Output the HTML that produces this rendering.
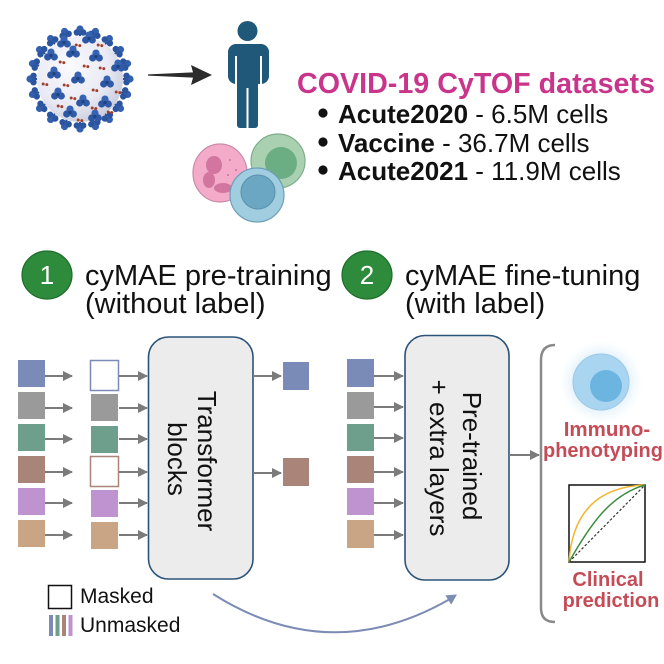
<!DOCTYPE html>
<html>
<head>
<meta charset="utf-8">
<style>
  html,body{margin:0;padding:0;background:#fff;}
  svg{display:block;}
  text{font-family:"Liberation Sans", Arial, sans-serif;}
</style>
</head>
<body>
<svg width="664" height="664" viewBox="0 0 664 664" xmlns="http://www.w3.org/2000/svg">
  <defs>
    <radialGradient id="vbody" cx="0.38" cy="0.35" r="0.75">
      <stop offset="0" stop-color="#fafafe"/>
      <stop offset="0.6" stop-color="#e9eaf4"/>
      <stop offset="1" stop-color="#c2c5d6"/>
    </radialGradient>
    <radialGradient id="glow" cx="0.5" cy="0.5" r="0.5">
      <stop offset="0.5" stop-color="#cfe8f8" stop-opacity="1"/>
      <stop offset="1" stop-color="#eef7fd" stop-opacity="0"/>
    </radialGradient>
    <g id="spike">
      <line x1="0" y1="-38" x2="0" y2="-46" stroke="#2a5298" stroke-width="2"/>
      <circle cx="0" cy="-50" r="3.6" fill="#3460b0"/>
      <circle cx="-3.2" cy="-46.5" r="3.2" fill="#2c55a0"/>
      <circle cx="3.2" cy="-46.5" r="3.2" fill="#2c55a0"/>
    </g>
    <g id="tri">
      <circle cx="0" cy="-2.9" r="3.6" fill="#3663b3"/>
      <circle cx="-3.3" cy="2" r="3.6" fill="#2d57a3"/>
      <circle cx="3.3" cy="2" r="3.6" fill="#2f5aa8"/>
      <circle cx="0" cy="0.5" r="1.6" fill="#1f437f"/>
    </g>
    <g id="rd">
      <circle cx="-1.8" cy="0" r="1.5" fill="#a1402f"/>
      <circle cx="1.8" cy="0.6" r="1.5" fill="#a1402f"/>
    </g>
    <marker id="ah" viewBox="0 0 10 10" refX="9" refY="5" markerWidth="10" markerHeight="10" markerUnits="userSpaceOnUse" orient="auto">
      <path d="M0,0 L10,5 L0,10 z" fill="#7b7b7b"/>
    </marker>
  </defs>

  <!-- Virus -->
  <g>
    <g transform="translate(80,79)">
      <use href="#spike" transform="rotate(0)"/>
      <use href="#spike" transform="rotate(18)"/>
      <use href="#spike" transform="rotate(36)"/>
      <use href="#spike" transform="rotate(54)"/>
      <use href="#spike" transform="rotate(72)"/>
      <use href="#spike" transform="rotate(90)"/>
      <use href="#spike" transform="rotate(108)"/>
      <use href="#spike" transform="rotate(126)"/>
      <use href="#spike" transform="rotate(144)"/>
      <use href="#spike" transform="rotate(162)"/>
      <use href="#spike" transform="rotate(180)"/>
      <use href="#spike" transform="rotate(198)"/>
      <use href="#spike" transform="rotate(216)"/>
      <use href="#spike" transform="rotate(234)"/>
      <use href="#spike" transform="rotate(252)"/>
      <use href="#spike" transform="rotate(270)"/>
      <use href="#spike" transform="rotate(288)"/>
      <use href="#spike" transform="rotate(306)"/>
      <use href="#spike" transform="rotate(324)"/>
      <use href="#spike" transform="rotate(342)"/>
    </g>
    <circle cx="80" cy="79" r="43" fill="url(#vbody)"/>
    <use href="#tri" x="73" y="52"/>
    <use href="#tri" x="96" y="56"/>
    <use href="#tri" x="51" y="55"/>
    <use href="#tri" x="54" y="73"/>
    <use href="#tri" x="78" y="78"/>
    <use href="#tri" x="107" y="82"/>
    <use href="#tri" x="58" y="94"/>
    <use href="#tri" x="83" y="101"/>
    <use href="#tri" x="105" y="102"/>
    <use href="#tri" x="70" y="112"/>
    <use href="#tri" x="95" y="116"/>
    <use href="#tri" x="118" y="66"/>
    <use href="#tri" x="64" y="42"/>
    <use href="#tri" x="89" y="38"/>
    <use href="#rd" x="62" y="62"/>
    <use href="#rd" x="86" y="66"/>
    <use href="#rd" x="102" y="68"/>
    <use href="#rd" x="66" y="85"/>
    <use href="#rd" x="95" y="90"/>
    <use href="#rd" x="118" y="92"/>
    <use href="#rd" x="45" y="84"/>
    <use href="#rd" x="73" y="98"/>
    <use href="#rd" x="94" y="108"/>
    <use href="#rd" x="60" y="106"/>
    <use href="#rd" x="80" y="120"/>
    <use href="#rd" x="110" y="112"/>
    <use href="#rd" x="78" y="45"/>
    <use href="#rd" x="100" y="45"/>
  </g>

  <!-- Arrow virus -> person -->
  <polygon points="148,74.4 193,72.4 191,65 212,75 191,85 193,77.6 148,75.6" fill="#2b2b2b"/>

  <!-- Person -->
  <g fill="#1f5878">
    <circle cx="247.5" cy="31" r="10"/>
    <rect x="228" y="44" width="41" height="40" rx="8"/>
    <rect x="237" y="76" width="21" height="52" rx="3"/>
  </g>
  <g stroke="#fff" stroke-width="2">
    <line x1="236" y1="56" x2="236" y2="86"/>
    <line x1="261" y1="56" x2="261" y2="86"/>
    <line x1="247.5" y1="88" x2="247.5" y2="130"/>
  </g>

  <!-- Cells -->
  <g>
    <ellipse cx="220" cy="173" rx="27" ry="29" fill="#f3abc9" stroke="#c98ba7" stroke-width="1.2"/>
    <ellipse cx="214" cy="165" rx="8" ry="9" fill="#d2769f"/>
    <ellipse cx="209" cy="180" rx="6" ry="8" fill="#d2769f"/>
    <ellipse cx="223" cy="188" rx="9" ry="5" fill="#d2769f"/>
    <circle cx="230" cy="160" r="1" fill="#c9739a"/>
    <circle cx="236" cy="170" r="1" fill="#c9739a"/>
    <circle cx="228" cy="175" r="1" fill="#c9739a"/>
    <circle cx="278" cy="161" r="27" fill="#a9d1b1" stroke="#7fae8a" stroke-width="1.2"/>
    <circle cx="281" cy="163" r="16" fill="#6cae84"/>
    <circle cx="257" cy="195" r="27" fill="#a0cde0" stroke="#6e9fb6" stroke-width="1.2"/>
    <circle cx="258" cy="192" r="17" fill="#6ba7c3" stroke="#5b90ab" stroke-width="1"/>
  </g>

  <!-- Title & bullets -->
  <text x="297" y="93" font-size="28.6" font-weight="bold" fill="#c8358a" textLength="358" lengthAdjust="spacingAndGlyphs">COVID-19 CyTOF datasets</text>
  <circle cx="323" cy="113" r="4.6" fill="#111"/>
  <circle cx="323" cy="142" r="4.6" fill="#111"/>
  <circle cx="323" cy="170" r="4.6" fill="#111"/>
  <text x="338" y="123" font-size="26" fill="#111"><tspan font-weight="bold">Acute2020</tspan> - 6.5M cells</text>
  <text x="338" y="152" font-size="26" fill="#111"><tspan font-weight="bold">Vaccine</tspan> - 36.7M cells</text>
  <text x="338" y="180" font-size="26" fill="#111"><tspan font-weight="bold">Acute2021</tspan> - 11.9M cells</text>

  <!-- Step headers -->
  <ellipse cx="47" cy="275" rx="25" ry="24" fill="#2e8b3b" stroke="#1f6c2b" stroke-width="1.2"/>
  <text x="47" y="284" font-size="26" fill="#fff" text-anchor="middle">1</text>
  <text x="85" y="285" font-size="29" fill="#111">cyMAE pre-training</text>
  <text x="85" y="313" font-size="29" fill="#111">(without label)</text>

  <ellipse cx="367" cy="275" rx="25" ry="24" fill="#2e8b3b" stroke="#1f6c2b" stroke-width="1.2"/>
  <text x="367" y="284" font-size="26" fill="#fff" text-anchor="middle">2</text>
  <text x="405" y="285" font-size="29" fill="#111">cyMAE fine-tuning</text>
  <text x="405" y="313" font-size="29" fill="#111">(with label)</text>

  <!-- Column 1 squares -->
  <g>
    <rect x="18" y="360" width="27" height="27" fill="#7a8bb8"/>
    <rect x="18" y="392" width="27" height="27" fill="#9a9a9a"/>
    <rect x="18" y="424" width="27" height="27" fill="#6e9e8c"/>
    <rect x="18" y="456" width="27" height="27" fill="#a88479"/>
    <rect x="18" y="488" width="27" height="27" fill="#be93cf"/>
    <rect x="18" y="520" width="27" height="27" fill="#c9a586"/>
  </g>
  <g stroke="#7b7b7b" stroke-width="2" marker-end="url(#ah)">
    <line x1="45" y1="376" x2="72" y2="376"/>
    <line x1="45" y1="408" x2="72" y2="408"/>
    <line x1="45" y1="439" x2="72" y2="439"/>
    <line x1="45" y1="472" x2="72" y2="472"/>
    <line x1="45" y1="503" x2="72" y2="503"/>
    <line x1="45" y1="535" x2="72" y2="535"/>
  </g>

  <!-- Column 2 squares -->
  <g>
    <rect x="90.5" y="360.5" width="28" height="30" fill="#fff" stroke="#7a8bb8" stroke-width="1.5"/>
    <rect x="91" y="394" width="27" height="27" fill="#9a9a9a"/>
    <rect x="91" y="426" width="27" height="27" fill="#6e9e8c"/>
    <rect x="90.5" y="456.5" width="28" height="30" fill="#fff" stroke="#a88479" stroke-width="1.5"/>
    <rect x="91" y="490" width="27" height="27" fill="#be93cf"/>
    <rect x="91" y="522" width="27" height="27" fill="#c9a586"/>
  </g>
  <g stroke="#7b7b7b" stroke-width="2" marker-end="url(#ah)">
    <line x1="119" y1="376" x2="147" y2="376"/>
    <line x1="119" y1="408" x2="147" y2="408"/>
    <line x1="119" y1="439" x2="147" y2="439"/>
    <line x1="119" y1="472" x2="147" y2="472"/>
    <line x1="119" y1="503" x2="147" y2="503"/>
    <line x1="119" y1="535" x2="147" y2="535"/>
  </g>

  <!-- Transformer box -->
  <rect x="148.5" y="337" width="104.5" height="242" rx="20" fill="#ececec" stroke="#2b5478" stroke-width="1.6"/>
  <text x="198" y="461" font-size="26" fill="#111" text-anchor="middle" transform="rotate(90 198 461)">Transformer</text>
  <text x="168" y="459" font-size="26" fill="#111" text-anchor="middle" transform="rotate(90 168 459)">blocks</text>

  <!-- Output arrows & squares -->
  <g stroke="#7b7b7b" stroke-width="2" marker-end="url(#ah)">
    <line x1="253" y1="376" x2="281" y2="376"/>
    <line x1="253" y1="473" x2="281" y2="473"/>
  </g>
  <rect x="283" y="362" width="26" height="28" fill="#7a8bb8"/>
  <rect x="283" y="458" width="26" height="28" fill="#a88479"/>

  <!-- Legend -->
  <rect x="48.5" y="585.5" width="23" height="23" fill="#fff" stroke="#111" stroke-width="1.5"/>
  <text x="80" y="603" font-size="21" fill="#111">Masked</text>
  <rect x="49" y="615" width="4" height="21" fill="#7a8bb8"/>
  <rect x="55.5" y="615" width="4" height="21" fill="#6e9e8c"/>
  <rect x="62" y="615" width="4" height="21" fill="#a88479"/>
  <rect x="68.5" y="615" width="4" height="21" fill="#be93cf"/>
  <text x="80" y="632" font-size="21" fill="#111">Unmasked</text>

  <!-- Curved arrow -->
  <path d="M213,594 Q330,668 450,599" fill="none" stroke="#7d8cb4" stroke-width="2"/>
  <polygon points="457,594.5 451.2,604.6 445.4,595.4" fill="#7d8cb4"/>

  <!-- Column 3 squares -->
  <g>
    <rect x="347" y="359" width="27" height="28" fill="#7a8bb8"/>
    <rect x="347" y="392" width="27" height="27" fill="#9a9a9a"/>
    <rect x="347" y="424" width="27" height="27" fill="#6e9e8c"/>
    <rect x="347" y="456" width="27" height="27" fill="#a88479"/>
    <rect x="347" y="488" width="27" height="27" fill="#be93cf"/>
    <rect x="347" y="520" width="27" height="28" fill="#c9a586"/>
  </g>
  <g stroke="#7b7b7b" stroke-width="2" marker-end="url(#ah)">
    <line x1="374" y1="376" x2="403" y2="376"/>
    <line x1="374" y1="407" x2="403" y2="407"/>
    <line x1="374" y1="438" x2="403" y2="438"/>
    <line x1="374" y1="472" x2="403" y2="472"/>
    <line x1="374" y1="503" x2="403" y2="503"/>
    <line x1="374" y1="535" x2="403" y2="535"/>
  </g>

  <!-- Fine-tune box -->
  <rect x="405" y="335.5" width="104" height="244.5" rx="20" fill="#ececec" stroke="#2b5478" stroke-width="1.6"/>
  <text x="463" y="456" font-size="26" fill="#111" text-anchor="middle" transform="rotate(90 463 456)">Pre-trained</text>
  <text x="430" y="458" font-size="26" fill="#111" text-anchor="middle" transform="rotate(90 430 458)">+ extra layers</text>

  <g stroke="#7b7b7b" stroke-width="2" marker-end="url(#ah)">
    <line x1="509" y1="455" x2="539" y2="455"/>
  </g>

  <!-- Bracket -->
  <path d="M555,345 Q541,345 541,360 L541,608 Q541,622 555,622" fill="none" stroke="#8a8a8a" stroke-width="2.5"/>

  <!-- Immuno cell -->
  <circle cx="601" cy="382" r="42" fill="url(#glow)"/>
  <circle cx="601" cy="382" r="28" fill="#a9d5f0" stroke="#9bc8e6" stroke-width="1"/>
  <circle cx="606" cy="386" r="16" fill="#6cb5e1"/>
  <text x="607" y="436" font-size="20.5" font-weight="bold" fill="#c54c57" text-anchor="middle">Immuno-</text>
  <text x="603" y="457" font-size="20" font-weight="bold" fill="#c54c57" text-anchor="middle">phenotyping</text>

  <!-- ROC -->
  <rect x="569" y="485" width="76" height="77" fill="#fff" stroke="#111" stroke-width="1.5"/>
  <line x1="569" y1="562" x2="645" y2="485" stroke="#333" stroke-width="1.2" stroke-dasharray="2.5,2"/>
  <path d="M569,562 C572,515 595,487 645,485" fill="none" stroke="#f2b631" stroke-width="1.5"/>
  <path d="M569,562 C590,525 610,495 645,485" fill="none" stroke="#3d8c40" stroke-width="1.5"/>
  <text x="608" y="586" font-size="20" font-weight="bold" fill="#c54c57" text-anchor="middle">Clinical</text>
  <text x="611" y="607" font-size="20" font-weight="bold" fill="#c54c57" text-anchor="middle">prediction</text>
</svg>
</body>
</html>
